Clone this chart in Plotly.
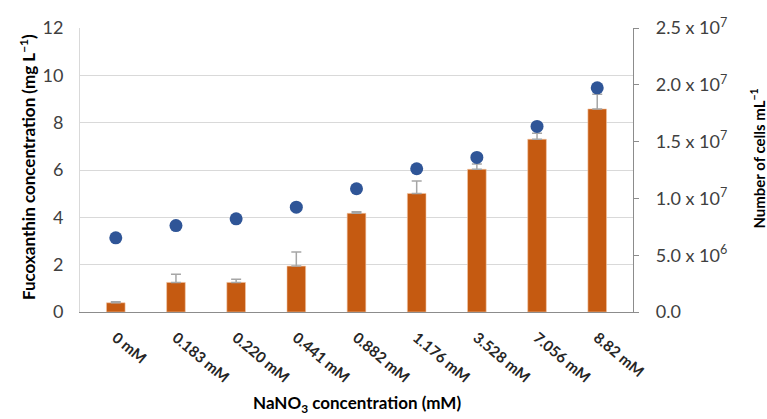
import plotly.graph_objects as go

# NaNO3 treatments
categories = ["0 mM", "0.183 mM", "0.220 mM", "0.441 mM", "0.882 mM",
              "1.176 mM", "3.528 mM", "7.056 mM", "8.82 mM"]

# Fucoxanthin concentration (mg/L) and its standard deviation
fucoxanthin = [0.39, 1.25, 1.25, 1.94, 4.17, 5.01, 6.03, 7.30, 8.58]
fucoxanthin_sd = [0.04, 0.35, 0.13, 0.60, 0.07, 0.52, 0.22, 0.25, 0.62]

# Cell density (cells/mL)
cells = [6.53e6, 7.61e6, 8.20e6, 9.23e6, 1.085e7, 1.261e7, 1.361e7, 1.634e7, 1.973e7]

# Right-axis tick values and labels
cell_ticks = [0, 5e6, 1e7, 1.5e7, 2e7, 2.5e7]
cell_ticklabels = ["0.0", "5.0 x 10<sup>6</sup>", "1.0 x 10<sup>7</sup>",
                   "1.5 x 10<sup>7</sup>", "2.0 x 10<sup>7</sup>", "2.5 x 10<sup>7</sup>"]

FONT = "Lato"
TICK_COLOR = "#404040"


def title_font(size):
    return dict(family=FONT, size=size, color="#000000", weight="bold")


fig = go.Figure()

fig.add_trace(go.Bar(
    x=categories,
    y=fucoxanthin,
    marker=dict(color="#C55A11", line=dict(color="#F4C7A8", width=0.6)),
    error_y=dict(type="data", array=fucoxanthin_sd, arrayminus=[0] * len(fucoxanthin_sd),
                 symmetric=False, color="#A6A6A6", thickness=1.5, width=5),
    yaxis="y",
    showlegend=False,
))

fig.add_trace(go.Scatter(
    x=categories,
    y=cells,
    mode="markers",
    marker=dict(color="#2F5597", size=13, line=dict(width=0)),
    yaxis="y2",
    showlegend=False,
))

fig.update_layout(
    width=767,
    height=419,
    margin=dict(l=80, r=134, t=28, b=107),
    plot_bgcolor="white",
    paper_bgcolor="white",
    bargap=0.69,
    font=dict(family=FONT, color=TICK_COLOR),
    xaxis=dict(
        showgrid=False,
        showline=True,
        linecolor="#8C8C8C",
        linewidth=1.3,
        ticks="",
        tickangle=40,
        ticklabelstandoff=10,
        tickfont=dict(family=FONT, size=15, color="#262626", weight="bold"),
    ),
    yaxis=dict(
        range=[0, 12],
        dtick=2,
        showgrid=True,
        gridcolor="#D9D9D9",
        gridwidth=1,
        showline=True,
        linecolor="#D9D9D9",
        zeroline=False,
        ticks="",
        ticklabelstandoff=12,
        tickfont=dict(family=FONT, size=18, color=TICK_COLOR),
    ),
    yaxis2=dict(
        range=[0, 2.5e7],
        overlaying="y",
        side="right",
        showgrid=False,
        zeroline=False,
        showline=True,
        linecolor="#8C8C8C",
        linewidth=1.3,
        ticks="outside",
        ticklen=5,
        tickcolor="#8C8C8C",
        ticklabelstandoff=13,
        tickvals=cell_ticks,
        ticktext=cell_ticklabels,
        tickfont=dict(family=FONT, size=18, color=TICK_COLOR),
    ),
    annotations=[
        dict(text="Fucoxanthin concentration (mg L<sup>−1</sup>)", xref="paper", yref="paper",
             x=-0.096, y=0.51, xanchor="center", yanchor="middle", textangle=-90,
             showarrow=False, font=title_font(17)),
        dict(text="Number of cells mL<sup>−1</sup>", xref="paper", yref="paper",
             x=1.226, y=0.54, xanchor="center", yanchor="middle", textangle=-90,
             showarrow=False, font=title_font(15)),
        dict(text="NaNO<sub>3</sub> concentration (mM)", xref="paper", yref="paper",
             x=0.5, y=-0.325, xanchor="center", yanchor="middle",
             showarrow=False, font=title_font(17)),
    ],
)

fig.write_html("out.html")
